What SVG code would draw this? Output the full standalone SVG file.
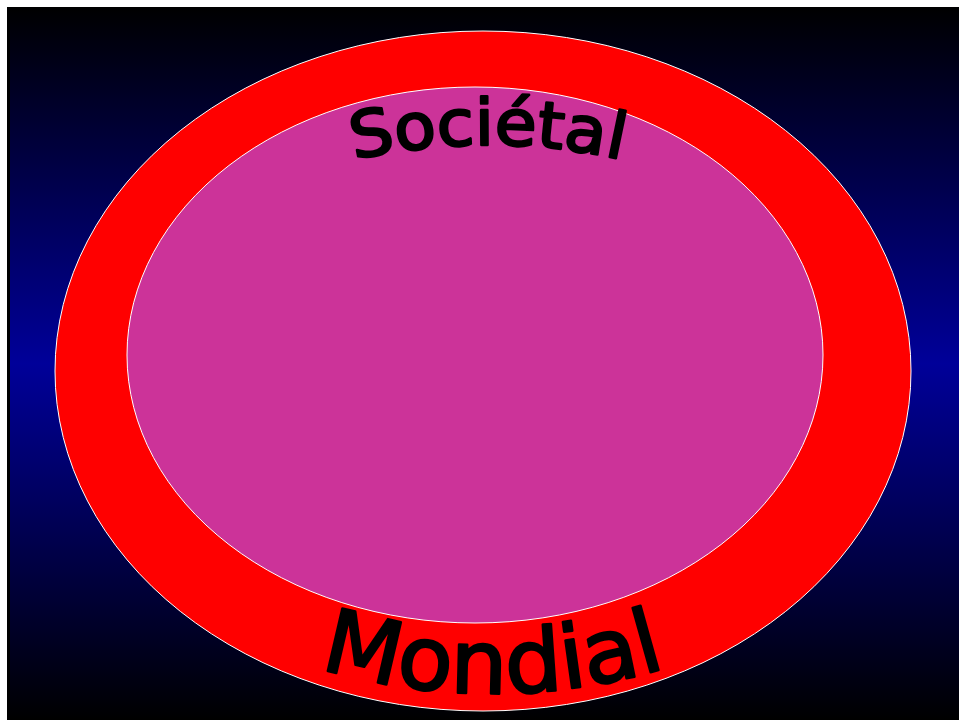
<svg xmlns="http://www.w3.org/2000/svg" xmlns:xlink="http://www.w3.org/1999/xlink" width="959" height="720" viewBox="0 0 959 720">
<defs>
<linearGradient id="bg" x1="0" y1="0" x2="0" y2="1">
<stop offset="0" stop-color="#000000"/>
<stop offset="0.5" stop-color="#000099"/>
<stop offset="1" stop-color="#000000"/>
</linearGradient>
<path id="arcTop" d="M 238 198 A 615 615 0 0 1 738 198"/>
<path id="arcBot" d="M 193 613 A 600 600 0 0 0 793 613"/>
<style>
.lbl{font-family:"Comic Sans MS","DejaVu Sans",sans-serif;fill:#000;stroke:#000;stroke-width:2.5;stroke-linejoin:round}
.ring{stroke:#fff;stroke-width:1}
</style>
</defs>
<rect x="0" y="0" width="959" height="720" fill="#fff"/>
<rect x="7" y="7" width="952" height="713" fill="#000"/>
<rect x="10" y="7" width="949" height="713" fill="url(#bg)"/>
<g id="mondial">
<ellipse class="ring" cx="483" cy="371" rx="428" ry="340" fill="#FF0000"/>
</g>
<g id="societal">
<ellipse class="ring" cx="475" cy="355" rx="348" ry="268" fill="#CC3399"/>
</g>
<g id="labels">
<text class="lbl" font-size="64" text-anchor="middle"><textPath xlink:href="#arcTop" startOffset="50%" textLength="270" lengthAdjust="spacingAndGlyphs">Sociétal</textPath></text>
<text class="lbl" font-size="88" text-anchor="middle"><textPath xlink:href="#arcBot" startOffset="50%" textLength="352" lengthAdjust="spacingAndGlyphs">Mondial</textPath></text>
</g>
</svg>
